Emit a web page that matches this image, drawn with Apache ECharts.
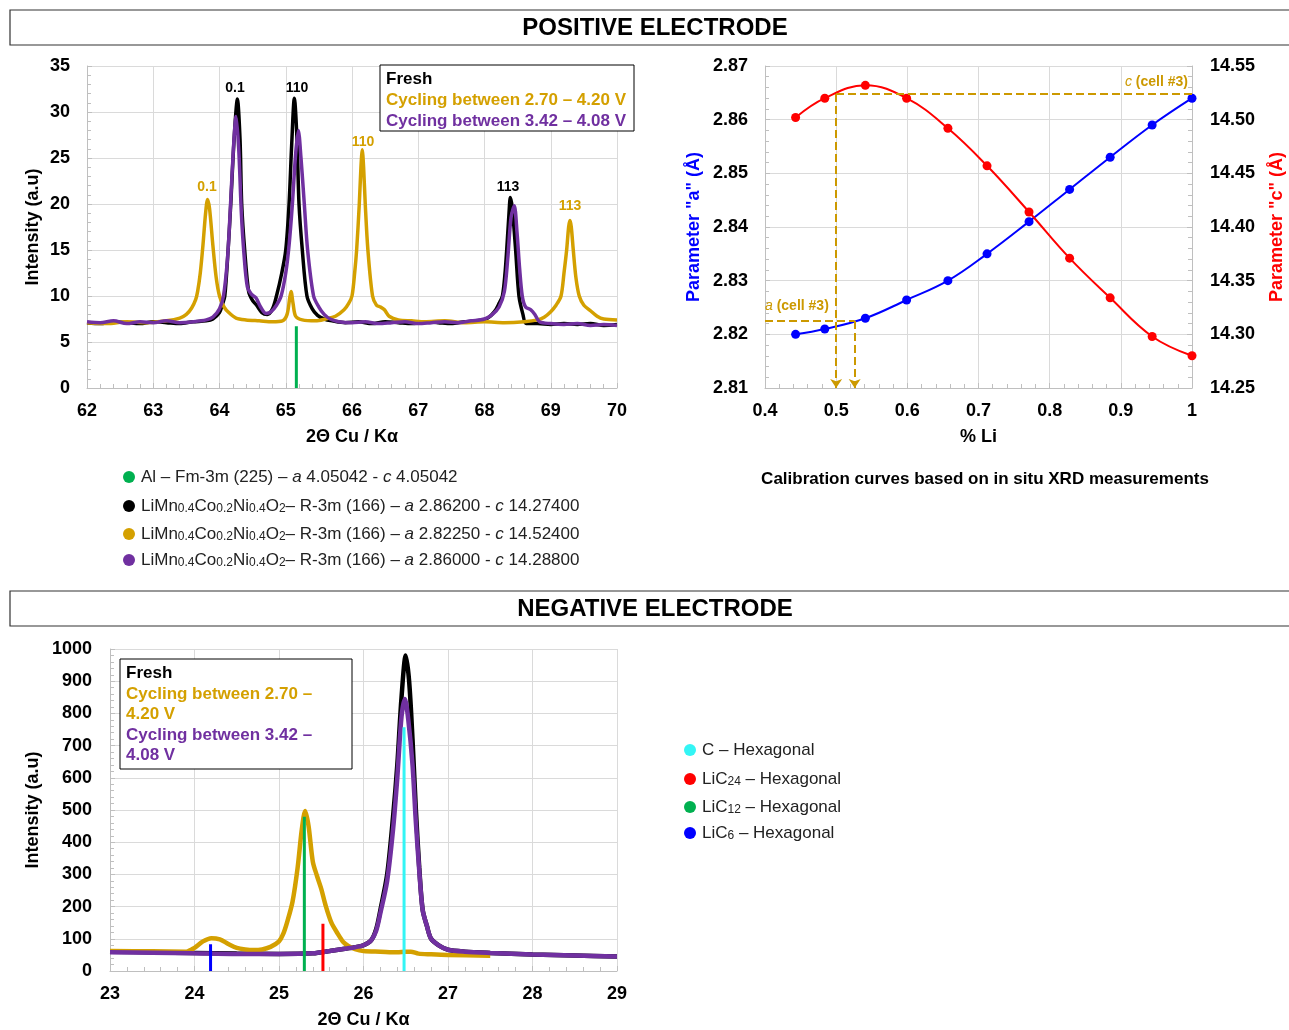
<!DOCTYPE html>
<html>
<head>
<meta charset="utf-8">
<title>XRD positive / negative electrode</title>
<script src="https://cdn.jsdelivr.net/npm/echarts@6/dist/echarts.min.js"></script>
<style>
  html, body { margin: 0; padding: 0; background: #fff; }
  #chart { width: 1289px; height: 1030px; }
</style>
</head>
<body>
<div id="chart"></div>
<script>
  // ---------- positive electrode : 2θ (deg) vs intensity (a.u) ----------
  const posFresh = [
    [62.0,7.1],[62.2,7.0],[62.4,7.2],[62.6,7.1],[62.8,7.0],[63.0,7.2],[63.2,7.1],[63.4,7.0],[63.6,7.2],
    [63.8,7.3],[63.9,7.5],[64.0,8.2],[64.04,9.0],[64.08,10.0],[64.13,15.0],[64.17,20.0],[64.22,27.0],
    [64.27,31.4],[64.31,27.0],[64.335,20.0],[64.38,15.0],[64.44,10.5],[64.5,9.5],[64.56,9.0],
    [64.64,8.2],[64.72,8.0],[64.8,8.6],[64.86,10.0],[64.94,12.5],[65.0,15.0],[65.05,20.0],[65.09,26.5],
    [65.13,31.5],[65.17,27.0],[65.2,20.0],[65.25,15.0],[65.32,10.0],[65.4,8.6],[65.48,7.9],[65.58,7.5],
    [65.7,7.3],[65.9,7.1],[66.1,7.2],[66.3,7.0],[66.5,7.2],[66.7,7.1],[66.9,7.0],[67.1,7.2],[67.3,7.1],
    [67.5,7.0],[67.7,7.2],[67.9,7.3],[68.05,7.6],[68.15,8.3],[68.22,9.2],[68.27,10.0],[68.31,12.5],
    [68.335,15.0],[68.37,19.0],[68.39,20.7],[68.42,19.5],[68.47,15.0],[68.52,10.0],[68.58,8.0],[68.63,7.0],
    [68.8,7.0],[69.0,6.9],[69.2,7.0],[69.4,6.9],[69.6,7.0],[69.8,6.8],[70.0,6.9]
  ];
  const posCyc270 = [
    [62.0,7.1],[62.3,7.0],[62.6,7.2],[62.9,7.1],[63.2,7.3],[63.4,7.6],[63.5,8.0],[63.58,8.7],[63.64,9.6],
    [63.67,10.5],[63.71,12.5],[63.75,15.5],[63.79,19.0],[63.82,20.5],[63.85,19.5],[63.9,15.5],[63.95,12.0],
    [64.0,10.0],[64.07,8.8],[64.14,8.2],[64.25,7.6],[64.4,7.4],[64.6,7.3],[64.8,7.2],[64.95,7.3],[65.02,8.0],
    [65.06,9.8],[65.08,10.5],[65.11,9.2],[65.15,7.8],[65.25,7.4],[65.45,7.3],[65.6,7.5],[65.75,7.8],
    [65.88,8.5],[65.95,9.2],[66.0,10.0],[66.04,12.5],[66.07,15.0],[66.11,20.0],[66.135,24.0],[66.155,25.9],
    [66.175,24.0],[66.2,20.0],[66.24,15.0],[66.31,10.0],[66.37,9.0],[66.43,8.8],[66.49,8.5],[66.56,7.8],
    [66.7,7.4],[66.9,7.3],[67.1,7.2],[67.4,7.3],[67.7,7.1],[68.0,7.2],[68.3,7.1],[68.6,7.2],[68.8,7.4],
    [68.9,7.7],[69.0,8.3],[69.08,9.0],[69.155,10.0],[69.2,12.5],[69.24,15.0],[69.27,17.5],[69.29,18.2],
    [69.31,17.5],[69.34,15.0],[69.38,12.0],[69.43,10.0],[69.5,9.0],[69.6,8.4],[69.7,7.8],[69.8,7.5],[70.0,7.4]
  ];
  const posCyc342 = [
    [62.0,7.2],[62.2,7.1],[62.4,7.3],[62.6,7.0],[62.8,7.2],[63.0,7.1],[63.2,7.3],[63.4,7.1],[63.6,7.2],
    [63.8,7.4],[63.9,7.7],[64.0,8.6],[64.06,10.0],[64.12,14.0],[64.16,19.0],[64.21,26.0],[64.25,29.5],
    [64.29,26.0],[64.33,19.0],[64.37,14.5],[64.42,11.0],[64.48,10.2],[64.55,9.8],[64.62,8.8],[64.7,8.1],
    [64.78,8.3],[64.86,9.0],[64.93,10.0],[65.0,12.5],[65.05,15.5],[65.1,20.0],[65.15,25.5],[65.19,28.0],
    [65.23,25.0],[65.28,20.0],[65.33,15.0],[65.42,10.0],[65.5,8.8],[65.58,8.0],[65.67,7.5],[65.8,7.2],
    [66.0,7.1],[66.2,7.2],[66.4,7.0],[66.6,7.1],[66.8,7.2],[67.0,7.0],[67.2,7.1],[67.4,7.2],[67.6,7.1],
    [67.8,7.3],[68.0,7.5],[68.12,8.0],[68.22,8.8],[68.3,10.5],[68.35,14.0],[68.4,18.5],[68.45,19.8],
    [68.49,17.0],[68.53,13.0],[68.57,10.0],[68.62,8.8],[68.7,8.5],[68.76,8.0],[68.83,7.2],[69.0,7.0],
    [69.2,6.9],[69.4,7.0],[69.6,6.8],[69.8,6.9],[70.0,6.8]
  ];
  const alRefX = 65.16;
  const alRefH = 6.7;

  // ---------- calibration curves ----------
  const liFrac = [0.443, 0.484, 0.541, 0.599, 0.657, 0.712, 0.771, 0.828, 0.885, 0.944, 1.0];
  const paramA = [2.820, 2.821, 2.823, 2.8264, 2.830, 2.835, 2.841, 2.847, 2.853, 2.859, 2.864];
  const paramC = [14.502, 14.520, 14.532, 14.520, 14.492, 14.457, 14.414, 14.371, 14.334, 14.298, 14.280];
  const cellA = 2.8225, cellALi = 0.526;
  const cellC = 14.524, cellCLi = 0.5;

  // ---------- negative electrode ----------
  const negFresh = [
    [23.0,60],[23.5,58],[24.0,56],[24.5,54],[25.0,53],[25.4,55],[25.6,62],[25.8,70],[25.9,74],[26.0,80],
    [26.09,95],[26.15,130],[26.2,190],[26.28,300],[26.35,480],[26.4,640],[26.45,850],[26.5,980],[26.54,900],
    [26.58,720],[26.62,500],[26.66,320],[26.7,190],[26.75,140],[26.8,100],[26.9,78],[27.0,66],[27.2,60],
    [27.5,56],[28.0,51],[28.5,48],[29.0,45]
  ];
  const negCyc270 = [
    [23.0,62],[23.5,61],[23.9,60],[24.0,72],[24.1,92],[24.2,102],[24.3,98],[24.4,84],[24.5,72],[24.6,67],
    [24.7,65],[24.8,67],[24.9,75],[25.0,92],[25.05,115],[25.1,155],[25.16,215],[25.22,320],[25.27,440],
    [25.31,497],[25.35,450],[25.4,340],[25.45,295],[25.5,255],[25.55,205],[25.62,150],[25.69,118],
    [25.76,90],[25.82,78],[25.9,68],[26.0,62],[26.2,60],[26.4,58],[26.5,60],[26.56,60],[26.65,54],
    [26.8,52],[27.0,50],[27.5,47]
  ];
  const negCyc342 = [
    [23.0,58],[23.5,57],[24.0,55],[24.5,53],[25.0,53],[25.4,55],[25.6,62],[25.8,70],[25.9,74],[26.0,80],
    [26.09,95],[26.15,125],[26.2,180],[26.28,280],[26.35,440],[26.4,600],[26.45,790],[26.49,845],[26.53,780],
    [26.58,640],[26.62,460],[26.66,310],[26.7,190],[26.75,140],[26.8,100],[26.9,78],[27.0,66],[27.2,60],
    [27.5,56],[28.0,51],[28.5,48],[29.0,45]
  ];
  const negRefNames = ['C', 'LiC24', 'LiC12', 'LiC6'];
  const negRefX = [26.48, 25.52, 25.30, 24.19];
  const negRefH = [757, 147, 479, 83];

  // colours
  const GOLD = '#D4A000', PURPLE = '#7030A0', GREEN = '#00B050';
  const refColors = ['#33F5F5', '#FF0000', '#00B050', '#0000FF'];
  const FONT = '"Liberation Sans", Arial, sans-serif';

  let myChart = echarts.init(document.getElementById('chart'));

  function valueAxis(gridIndex, min, max, interval, o) {
    o = o || {};
    return {
      type: 'value',
      gridIndex: gridIndex,
      min: min, max: max, interval: interval,
      position: o.position,
      name: o.name || '',
      nameLocation: 'middle',
      nameGap: o.nameGap || 40,
      nameRotate: o.nameRotate,
      nameTextStyle: { color: o.nameColor || '#000', fontSize: 18, fontWeight: 'bold', fontFamily: FONT },
      axisLine: { show: true, lineStyle: { color: '#bfbfbf' } },
      axisTick: { show: true, inside: true, length: 5, lineStyle: { color: '#bfbfbf' } },
      minorTick: { show: true, splitNumber: 5, length: 4, lineStyle: { color: '#bfbfbf' } },
      splitLine: { show: o.split !== false, lineStyle: { color: '#dadada' } },
      axisLabel: {
        color: '#000', fontSize: 18, fontWeight: 'bold', fontFamily: FONT,
        margin: o.margin || 14, formatter: o.formatter || (v => String(v))
      }
    };
  }

  function refLine(name, x, h, color, xi, yi) {
    return {
      name: name, type: 'line', xAxisIndex: xi, yAxisIndex: yi,
      data: [[x, 0], [x, h]], showSymbol: false, silent: true,
      lineStyle: { color: color, width: 3 }, z: 5
    };
  }

  function spectrum(name, data, color, xi, yi, width) {
    return {
      name: name, type: 'line', xAxisIndex: xi, yAxisIndex: yi,
      data: data, showSymbol: false, smooth: 0.3, silent: true,
      lineStyle: { color: color, width: width }
    };
  }

  const dash = { type: 'dashed', color: '#CC9900', width: 2 };

  // section header box
  function header(y, text) {
    return [
      { type: 'rect', shape: { x: 10, y: y, width: 1300, height: 35 },
        style: { fill: '#fff', stroke: '#333', lineWidth: 1.2 }, z: 0 },
      { type: 'text', x: 655, y: y + 18,
        style: { text: text, font: 'bold 24px ' + FONT, fill: '#000', align: 'center', verticalAlign: 'middle' } }
    ];
  }

  function txt(x, y, text, color, size, align, weight) {
    return { type: 'text', x: x, y: y, z: 50,
      style: { text: text, fill: color, font: (weight || 'bold') + ' ' + size + 'px ' + FONT,
        align: align || 'left', verticalAlign: 'middle',
        rich: {
          s: { fontSize: 12, fill: color, fontFamily: FONT, fontWeight: weight || 'normal', verticalAlign: 'bottom', lineHeight: 12, padding: [11, 0, 0, 0] },
          i: { fontStyle: 'italic', fontSize: size, fill: color, fontFamily: FONT, fontWeight: weight || 'normal' }
        } } };
  }

  function dot(x, y, color) {
    return { type: 'circle', shape: { cx: x, cy: y, r: 6 }, style: { fill: color }, z: 50 };
  }

  const phaseLines = [
    'Al – Fm-3m (225) – {i|a} 4.05042 - {i|c} 4.05042',
    'LiMn{s|0.4}Co{s|0.2}Ni{s|0.4}O{s|2}– R-3m (166) – {i|a} 2.86200 - {i|c} 14.27400',
    'LiMn{s|0.4}Co{s|0.2}Ni{s|0.4}O{s|2}– R-3m (166) – {i|a} 2.82250 - {i|c} 14.52400',
    'LiMn{s|0.4}Co{s|0.2}Ni{s|0.4}O{s|2}– R-3m (166) – {i|a} 2.86000 - {i|c} 14.28800'
  ];
  const phaseColors = [GREEN, '#000', GOLD, PURPLE];
  const phaseY = [477, 506, 534, 560];

  const negLegend = ['C – Hexagonal', 'LiC{s|24} – Hexagonal', 'LiC{s|12} – Hexagonal', 'LiC{s|6} – Hexagonal'];
  const negLegendY = [750, 779, 807, 833];

  let graphics = [].concat(header(10, 'POSITIVE ELECTRODE'), header(591, 'NEGATIVE ELECTRODE'));

  // legend box top-left
  graphics.push({ type: 'rect', shape: { x: 380, y: 65, width: 254, height: 66 },
    style: { fill: '#fff', stroke: '#000', lineWidth: 1 }, z: 40 });
  graphics.push(txt(386, 79, 'Fresh', '#000', 17));
  graphics.push(txt(386, 100, 'Cycling between 2.70 – 4.20 V', GOLD, 17));
  graphics.push(txt(386, 121, 'Cycling between 3.42 – 4.08 V', PURPLE, 17));

  // peak labels
  graphics.push(txt(235, 88, '0.1', '#000', 14, 'center'));
  graphics.push(txt(297, 88, '110', '#000', 14, 'center'));
  graphics.push(txt(207, 187, '0.1', GOLD, 14, 'center'));
  graphics.push(txt(363, 142, '110', GOLD, 14, 'center'));
  graphics.push(txt(508, 187, '113', '#000', 14, 'center'));
  graphics.push(txt(570, 206, '113', GOLD, 14, 'center'));

  // phase legend
  for (let i = 0; i < phaseLines.length; i++) {
    graphics.push(dot(129, phaseY[i], phaseColors[i]));
    graphics.push(txt(141, phaseY[i], phaseLines[i], '#222', 17, 'left', 'normal'));
  }

  // calibration annotations
  graphics.push(txt(1188, 82, '{i|c} (cell #3)', '#CC9900', 14, 'right'));
  graphics.push(txt(765, 306, '{i|a} (cell #3)', '#CC9900', 14, 'left'));
  graphics.push(txt(985, 479, 'Calibration curves based on in situ XRD measurements', '#000', 17, 'center'));

  // legend box bottom
  graphics.push({ type: 'rect', shape: { x: 120, y: 659, width: 232, height: 110 },
    style: { fill: '#fff', stroke: '#000', lineWidth: 1 }, z: 40 });
  graphics.push(txt(126, 673, 'Fresh', '#000', 17));
  graphics.push(txt(126, 694, 'Cycling between 2.70 –', GOLD, 17));
  graphics.push(txt(126, 714, '4.20 V', GOLD, 17));
  graphics.push(txt(126, 735, 'Cycling between 3.42 –', PURPLE, 17));
  graphics.push(txt(126, 755, '4.08 V', PURPLE, 17));

  for (let i = 0; i < negLegend.length; i++) {
    graphics.push(dot(690, negLegendY[i], refColors[i]));
    graphics.push(txt(702, negLegendY[i], negLegend[i], '#222', 17, 'left', 'normal'));
  }

  let series = [
    spectrum('Fresh', posFresh, '#000', 0, 0, 3.5),
    spectrum('Cycling between 2.70 – 4.20 V', posCyc270, GOLD, 0, 0, 3.5),
    spectrum('Cycling between 3.42 – 4.08 V', posCyc342, PURPLE, 0, 0, 3.5),
    refLine('Al', alRefX, alRefH, GREEN, 0, 0),
    {
      name: 'a', type: 'line', xAxisIndex: 1, yAxisIndex: 1,
      data: liFrac.map((x, i) => [x, paramA[i]]),
      smooth: 0.4, symbol: 'circle', symbolSize: 9, silent: true,
      lineStyle: { color: '#0000FF', width: 2 }, itemStyle: { color: '#0000FF' },
      markLine: {
        silent: true, symbol: ['none', 'none'], symbolSize: 9, label: { show: false },
        lineStyle: dash,
        data: [
          [{ coord: [0.4, cellA] }, { coord: [cellALi, cellA] }],
          [{ coord: [cellALi, cellA] }, { coord: [cellALi, 2.81], symbol: 'arrow' }]
        ]
      }
    },
    {
      name: 'c', type: 'line', xAxisIndex: 1, yAxisIndex: 2,
      data: liFrac.map((x, i) => [x, paramC[i]]),
      smooth: 0.4, symbol: 'circle', symbolSize: 9, silent: true,
      lineStyle: { color: '#FF0000', width: 2 }, itemStyle: { color: '#FF0000' },
      markLine: {
        silent: true, symbol: ['none', 'none'], symbolSize: 9, label: { show: false },
        lineStyle: dash,
        data: [
          [{ coord: [1, cellC] }, { coord: [cellCLi, cellC] }],
          [{ coord: [cellCLi, cellC] }, { coord: [cellCLi, 14.25], symbol: 'arrow' }]
        ]
      }
    },
    spectrum('Fresh', negFresh, '#000', 2, 3, 4.5),
    spectrum('Cycling between 2.70 – 4.20 V', negCyc270, GOLD, 2, 3, 4.5),
    spectrum('Cycling between 3.42 – 4.08 V', negCyc342, PURPLE, 2, 3, 4.5)
  ];
  for (let i = 0; i < negRefX.length; i++) {
    series.push(refLine(negRefNames[i], negRefX[i], negRefH[i], refColors[i], 2, 3));
  }

  myChart.setOption({
    animation: false,
    textStyle: { fontFamily: FONT },
    grid: [
      { left: 87, top: 66, width: 530, height: 322 },
      { left: 765, top: 66, width: 427, height: 322 },
      { left: 110, top: 649, width: 507, height: 322 }
    ],
    xAxis: [
      valueAxis(0, 62, 70, 1, { name: '2Θ Cu / Kα', nameGap: 40 }),
      valueAxis(1, 0.4, 1, 0.1, { name: '% Li', nameGap: 40 }),
      valueAxis(2, 23, 29, 1, { name: '2Θ Cu / Kα', nameGap: 40 })
    ],
    yAxis: [
      valueAxis(0, 0, 35, 5, { name: 'Intensity (a.u)', nameGap: 45, margin: 17 }),
      valueAxis(1, 2.81, 2.87, 0.01, { name: 'Parameter "a" (Å)', nameGap: 62, nameColor: '#0000FF', margin: 17,
        formatter: v => v.toFixed(2) }),
      valueAxis(1, 14.25, 14.55, 0.05, { position: 'right', name: 'Parameter "c" (Å)', nameGap: 76, nameRotate: 90,
        nameColor: '#FF0000', margin: 18, split: false, formatter: v => v.toFixed(2) }),
      valueAxis(2, 0, 1000, 100, { name: 'Intensity (a.u)', nameGap: 68, margin: 18 })
    ],
    graphic: graphics,
    series: series
  });
</script>
</body>
</html>
